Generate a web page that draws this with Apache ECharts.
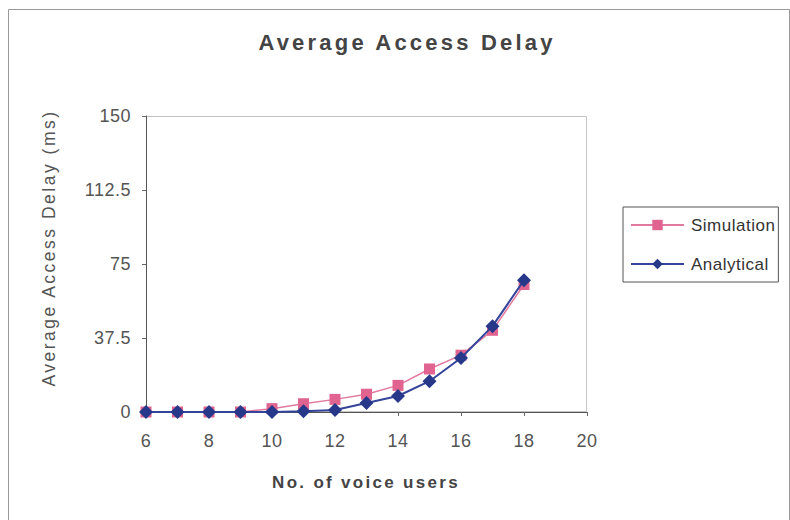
<!DOCTYPE html>
<html>
<head>
<meta charset="utf-8">
<script src="https://cdn.jsdelivr.net/npm/echarts@6/dist/echarts.min.js"></script>
<style>
  html, body { margin: 0; padding: 0; background: #ffffff; }
  #chart { width: 790px; height: 520px; }
</style>
</head>
<body>
<div id="chart"></div>
<script>
// Number of voice users on the x axis
const users = [6, 7, 8, 9, 10, 11, 12, 13, 14, 15, 16, 17, 18];
// Average access delay in ms
const simulation = [0, 0, 0, 0, 1.7, 4.2, 6.4, 9.0, 13.5, 21.8, 28.8, 41.4, 64.6];
const analytical = [0, 0, 0, 0, 0, 0.4, 1.0, 4.6, 8.1, 15.6, 27.4, 43.5, 66.8];
const yTicks = [0, 37.5, 75, 112.5, 150];

const titleText = 'Average Access Delay';
const xName = 'No. of voice users';
const yName = 'Average Access Delay (ms)';

const font = 'Liberation Sans, Arial, sans-serif';
const pair = (xs, ys) => xs.map((x, i) => [x, ys[i]]);

const chart = echarts.init(document.getElementById('chart'), null, { renderer: 'svg' });
chart.setOption({
  animation: false,
  backgroundColor: '#ffffff',
  graphic: [{
    type: 'rect',
    shape: { x: 8.5, y: 9.5, width: 781, height: 530 },
    style: { fill: 'none', stroke: '#999', lineWidth: 1 },
    silent: true
  }, {
    type: 'rect',
    shape: { x: 146.5, y: 116.5, width: 440, height: 295 },
    style: { fill: 'none', stroke: '#c4c4c4', lineWidth: 1 },
    silent: true,
    z: 0
  }, {
    type: 'text',
    x: 407, y: 42,
    style: {
      text: titleText, fill: '#444',
      font: 'bold 22px ' + font,
      textAlign: 'center', textVerticalAlign: 'middle'
    },
    silent: true
  }, {
    type: 'text',
    x: 366, y: 482,
    style: {
      text: xName, fill: '#444',
      font: 'bold 17px ' + font,
      textAlign: 'center', textVerticalAlign: 'middle'
    },
    silent: true
  }, {
    type: 'text',
    x: 49, y: 248,
    rotation: Math.PI / 2,
    style: {
      text: yName, fill: '#555',
      font: '17.5px ' + font,
      textAlign: 'center', textVerticalAlign: 'middle'
    },
    silent: true
  }],
  legend: {
    orient: 'vertical',
    left: 623,
    top: 207,
    padding: [8, 8, 8, 7],
    itemGap: 19,
    itemWidth: 53,
    itemHeight: 13,
    borderColor: '#555',
    borderWidth: 1,
    textStyle: { fontFamily: font, fontSize: 17, lineHeight: 20, color: '#333', padding: [0, 0, 0, 2] },
    data: ['Simulation', 'Analytical']
  },
  grid: { left: 146, right: 203, top: 116, bottom: 108 },
  xAxis: {
    type: 'value',
    min: 6, max: 20, interval: 2,
    axisLine: { show: true, lineStyle: { color: '#555', width: 1 } },
    axisTick: { show: true, length: 4, lineStyle: { color: '#666' } },
    axisLabel: { fontFamily: font, fontSize: 18, color: '#555', margin: 20 },
    splitLine: { show: false }
  },
  yAxis: {
    type: 'value',
    min: 0, max: 150, interval: 37.5,
    axisLine: { show: true, lineStyle: { color: '#555', width: 1 } },
    axisTick: { show: true, length: 4, lineStyle: { color: '#666' } },
    axisLabel: {
      fontFamily: font, fontSize: 18, color: '#555', margin: 15,
      formatter: v => (yTicks.includes(v) ? String(v) : '')
    },
    splitLine: { show: false }
  },
  series: [{
    name: 'Simulation',
    type: 'line',
    data: pair(users, simulation),
    symbol: 'rect',
    symbolSize: 11,
    lineStyle: { color: '#e27a9f', width: 1.5 },
    itemStyle: { color: '#e0648f' },
    z: 2
  }, {
    name: 'Analytical',
    type: 'line',
    data: pair(users, analytical),
    symbol: 'diamond',
    symbolSize: 14,
    lineStyle: { color: '#34449a', width: 2 },
    itemStyle: { color: '#27388a' },
    z: 3
  }]
});

// Wide letter spacing on the heading texts, a little on the rest
const spacing = { [titleText]: 3.2, [xName]: 2.3, [yName]: 2.5 };
chart.getDom().querySelectorAll('text').forEach(t => {
  const s = spacing[t.textContent];
  t.setAttribute('letter-spacing', (s !== undefined ? s : 0.5) + 'px');
});
</script>
</body>
</html>
